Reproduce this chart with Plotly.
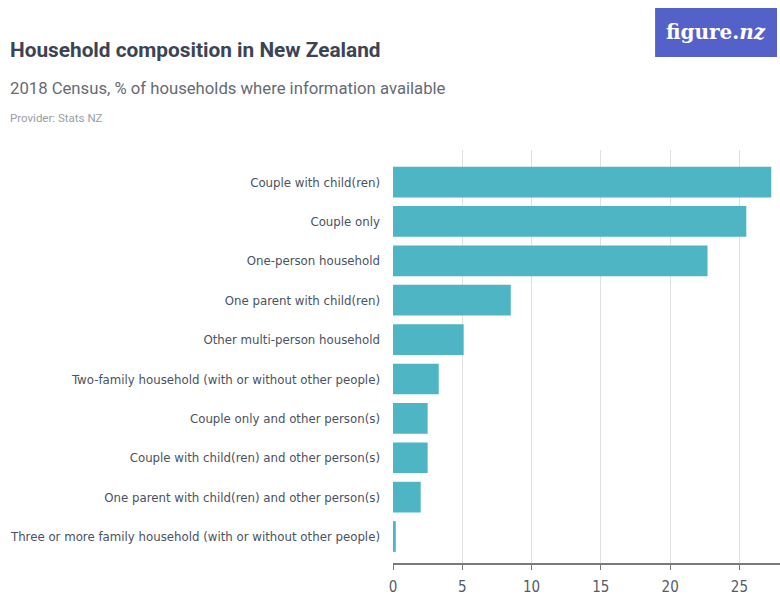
import plotly.graph_objects as go

# Household composition, 2018 Census (% of households where information available)
categories = [
    "Couple with child(ren)",
    "Couple only",
    "One-person household",
    "One parent with child(ren)",
    "Other multi-person household",
    "Two-family household (with or without other people)",
    "Couple only and other person(s)",
    "Couple with child(ren) and other person(s)",
    "One parent with child(ren) and other person(s)",
    "Three or more family household (with or without other people)",
]
values = [27.3, 25.5, 22.7, 8.5, 5.1, 3.3, 2.5, 2.5, 2.0, 0.2]
x_ticks = [0, 5, 10, 15, 20, 25]

W, H = 780, 597
L, R, T, B = 392.7, 0, 150, 34.3
plot_w = W - L - R
plot_h = H - T - B

LABEL_FONT = "DejaVu Sans Condensed, Roboto, sans-serif"
BAR_COLOR = "#4db5c3"
TEXT_DARK = "#3c4454"


def px_x(px):
    return (px - L) / plot_w


def px_y(py):
    return (H - B - py) / plot_h


fig = go.Figure(
    go.Bar(
        x=values,
        y=categories,
        orientation="h",
        marker=dict(color=BAR_COLOR, line=dict(width=0)),
        hoverinfo="x+y",
    )
)

fig.update_layout(
    width=W,
    height=H,
    margin=dict(l=L, r=R, t=T, b=B, pad=0, autoexpand=False),
    paper_bgcolor="white",
    plot_bgcolor="white",
    showlegend=False,
    bargap=0.22,
    font=dict(family=LABEL_FONT, color="#4a5262", size=14),
    xaxis=dict(
        range=[0, 27.93],
        tickvals=x_ticks,
        ticktext=[str(v) for v in x_ticks],
        showgrid=True,
        gridcolor="#e0e0e0",
        gridwidth=1,
        zeroline=False,
        showline=True,
        linecolor="#7a7a7a",
        linewidth=1.5,
        ticks="outside",
        ticklen=5,
        tickcolor="#7a7a7a",
        ticklabelstandoff=4,
        tickfont=dict(family=LABEL_FONT, size=15, color="#555c68"),
        automargin=False,
        fixedrange=True,
    ),
    yaxis=dict(
        categoryorder="array",
        categoryarray=categories[::-1],
        range=[-0.672, 9.814],
        showgrid=False,
        zeroline=False,
        showline=False,
        ticks="",
        ticklabelstandoff=12,
        tickfont=dict(family=LABEL_FONT, size=13.1, color="#4a5262"),
        automargin=False,
        fixedrange=True,
    ),
)

annotations = [
    dict(text="<b>Household composition in New Zealand</b>", x=px_x(7), y=px_y(50),
         font=dict(family="Roboto, sans-serif", size=20.8, color=TEXT_DARK)),
    dict(text="2018 Census, % of households where information available", x=px_x(7), y=px_y(89),
         font=dict(family="Roboto, sans-serif", size=16.7, color="#666b73")),
    dict(text="Provider: Stats NZ", x=px_x(7), y=px_y(118),
         font=dict(family="Roboto, sans-serif", size=11.5, color="#9a9ea5")),
]
for a in annotations:
    a.update(xref="paper", yref="paper", xanchor="left", yanchor="middle", showarrow=False)
    fig.add_annotation(**a)

# figure.nz badge
fig.add_shape(type="rect", xref="paper", yref="paper",
              x0=px_x(655), x1=px_x(777), y0=px_y(8), y1=px_y(57),
              fillcolor="#5461c8", line=dict(width=0), layer="above")
fig.add_annotation(text="<b>figure.</b><b><i>nz</i></b>", xref="paper", yref="paper",
                   x=px_x(716), y=px_y(32), xanchor="center", yanchor="middle",
                   showarrow=False,
                   font=dict(family="DejaVu Serif, serif", size=20, color="white"))

fig.write_html("out.html")
